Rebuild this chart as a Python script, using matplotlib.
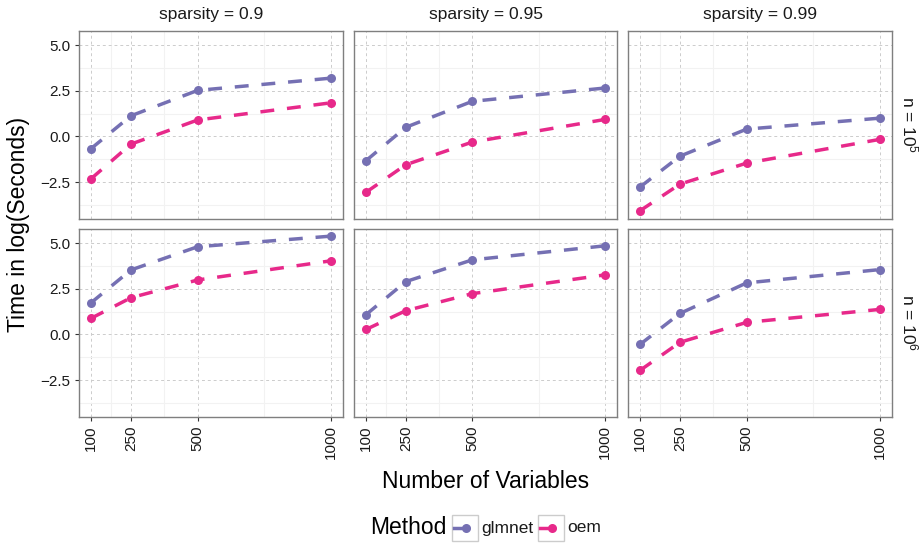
import matplotlib
matplotlib.use("Agg")
import matplotlib.pyplot as plt
from matplotlib.lines import Line2D
from matplotlib.patches import Rectangle
import numpy as np

plt.rcParams['font.family'] = ['Liberation Sans', 'DejaVu Sans']
plt.rcParams['mathtext.fontset'] = 'custom'
plt.rcParams['mathtext.rm'] = 'Liberation Sans'

n_vars = [100, 250, 500, 1000]
sparsities = ["0.9", "0.95", "0.99"]
n_labels = ["5", "6"]
methods = ["glmnet", "oem"]
colors = {"glmnet": "#7570B3", "oem": "#E7298A"}

# time in log(seconds): [row n][col sparsity]
glmnet_vals = [
    [[-0.67, 1.13, 2.52, 3.19], [-1.33, 0.50, 1.92, 2.65], [-2.77, -1.08, 0.40, 1.00]],
    [[1.73, 3.53, 4.80, 5.38], [1.08, 2.89, 4.08, 4.85], [-0.55, 1.15, 2.82, 3.55]],
]
oem_vals = [
    [[-2.32, -0.42, 0.90, 1.84], [-3.06, -1.55, -0.31, 0.93], [-4.07, -2.61, -1.46, -0.16]],
    [[0.88, 2.01, 2.98, 4.03], [0.27, 1.30, 2.23, 3.26], [-1.97, -0.43, 0.66, 1.37]],
]
data = {"glmnet": glmnet_vals, "oem": oem_vals}

y_ticks = [-2.5, 0.0, 2.5, 5.0]
y_ticklabels = ["\u22122.5", "0.0", "2.5", "5.0"]
x_ticklabels = ["100", "250", "500", "1000"]

W, H = 922, 548
fig = plt.figure(figsize=(W / 100, H / 100), dpi=100)
fig.patch.set_facecolor("white")

def rect(l, t, w, h):
    return [l / W, 1 - (t + h) / H, w / W, h / H]

lefts = [79, 354, 628]
widths = [264, 263, 264]
tops = [31, 229]
ph = 188

ylim = (-4.52, 5.77)
xlim = (55, 1045)
border = "#7f7f7f"
txtc = "#1a1a1a"
lw = 2.5
dash = (0, (4, 3.7))

for r in range(2):
    for c in range(3):
        ax = fig.add_axes(rect(lefts[c], tops[r], widths[c], ph))
        ax.set_xlim(*xlim)
        ax.set_ylim(*ylim)
        ax.set_xticks(n_vars)
        ax.set_xticks([175, 375, 750], minor=True)
        ax.set_yticks(y_ticks)
        ax.set_yticks([-3.75, -1.25, 1.25, 3.75], minor=True)
        ax.grid(which="minor", color="#f2f2f2", linewidth=0.8, linestyle="-")
        ax.grid(which="major", color="#cccccc", linewidth=0.7, linestyle=(0, (3, 3)))
        ax.set_axisbelow(True)
        for s in ax.spines.values():
            s.set_color(border)
            s.set_linewidth(1.0)
        ax.tick_params(which="minor", length=0)
        ax.tick_params(which="major", length=3, width=0.8, color="#333333",
                       labelsize=11, labelcolor=txtc, pad=3)
        if c == 0:
            ax.set_yticklabels(y_ticklabels)
        else:
            ax.tick_params(axis="y", which="major", length=0, labelleft=False)
        if r == 1:
            ax.set_xticklabels(x_ticklabels, rotation=90)
        else:
            ax.tick_params(axis="x", which="major", length=0, labelbottom=False)
        for m in methods:
            ax.plot(n_vars, data[m][r][c], color=colors[m], linewidth=lw,
                    linestyle=dash, marker="o", markersize=6.5,
                    markeredgewidth=0, zorder=3)
        if r == 0:
            ax.set_title("sparsity = " + sparsities[c], fontsize=12.5, color=txtc, pad=9)
        if c == 2:
            ax.text(1.028, 0.5, r"n = $\mathregular{10^{%s}}$" % n_labels[r],
                    transform=ax.transAxes, rotation=270, va="center", ha="left",
                    fontsize=12.5, color=txtc)

fig.text(19 / W, 1 - 224 / H, "Time in log(Seconds)", rotation=90, ha="center",
         va="center", fontsize=16.5, color="black")
fig.text(485.5 / W, 1 - 482 / H, "Number of Variables", ha="center", va="center",
         fontsize=16.5, color="black")

# legend
ly = 528
fig.text(370 / W, 1 - ly / H, "Method", ha="left", va="center", fontsize=16.5, color="black")
key_x = [452, 538]
for m, kx in zip(methods, key_x):
    fig.add_artist(Rectangle((kx / W, 1 - 541 / H), 26 / W, 26 / H,
                             transform=fig.transFigure, facecolor="white",
                             edgecolor="#cccccc", linewidth=1.0))
    fig.add_artist(Line2D([(kx + 2) / W, (kx + 16) / W], [1 - ly / H, 1 - ly / H],
                          transform=fig.transFigure, color=colors[m], linewidth=lw))
    fig.add_artist(Line2D([(kx + 14) / W], [1 - ly / H], transform=fig.transFigure,
                          color=colors[m], marker="o", markersize=6.5, markeredgewidth=0))
    fig.text((kx + 29) / W, 1 - ly / H, m, ha="left", va="center", fontsize=12.5, color=txtc)

fig.savefig("out.png", dpi=100)
